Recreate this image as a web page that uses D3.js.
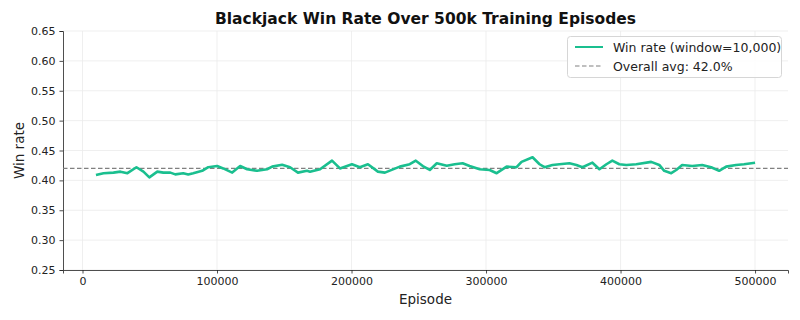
<!DOCTYPE html>
<html><head><meta charset="utf-8">
<script src="https://cdn.jsdelivr.net/npm/d3@7"></script>
<style>body{margin:0;background:#fff}svg{display:block}text{font-family:"DejaVu Sans",sans-serif}</style>
</head><body><svg id="c" width="800" height="320"></svg>
<script>
const episodes = [10000,15600,23000,28200,33400,40100,45300,49700,55600,60100,65300,69000,74900,78600,82300,89000,93500,100100,104600,111300,117200,122400,129800,137200,141000,148400,154300,160200,166900,169100,176600,185500,191400,200300,206200,212200,219600,224800,235900,243300,247800,253000,258200,263400,270800,276700,282600,287800,295300,302700,307900,315300,322700,326400,334600,339800,343500,349400,354600,362000,367200,371700,379100,384300,389500,393900,399100,404300,411700,422800,428800,432500,437700,441400,445800,453300,460700,467400,473300,478500,485900,491800,500000];
const winRate = [0.409,0.412,0.413,0.4146,0.412,0.422,0.4146,0.405,0.4146,0.413,0.413,0.410,0.412,0.410,0.412,0.416,0.422,0.424,0.420,0.413,0.424,0.4186,0.416,0.4186,0.423,0.426,0.422,0.413,0.416,0.4146,0.4186,0.433,0.420,0.427,0.422,0.427,0.4146,0.413,0.423,0.427,0.433,0.424,0.4174,0.4286,0.4246,0.427,0.4286,0.424,0.4186,0.4174,0.412,0.423,0.422,0.431,0.4387,0.427,0.422,0.4258,0.427,0.4286,0.4258,0.422,0.4296,0.4186,0.427,0.433,0.427,0.4258,0.427,0.431,0.4258,0.416,0.412,0.4174,0.4258,0.424,0.4258,0.422,0.416,0.423,0.4258,0.427,0.4296];
const overallAvg = 0.420;
const xTicks = [0,100000,200000,300000,400000,500000];
const yTicks = [0.25,0.30,0.35,0.40,0.45,0.50,0.55,0.60,0.65];
const titleText = "Blackjack Win Rate Over 500k Training Episodes";
const legendLabels = ["Win rate (window=10,000)", "Overall avg: 42.0%"];

const svg = d3.select("#c");
const L=63, R=788, T=31, B=270;
const pad = (500000-10000)*0.05;
const x = d3.scaleLinear().domain([10000-pad, 500000+pad]).range([L,R]);
const y = d3.scaleLinear().domain([0.25,0.65]).range([B,T]);
const green = "#1abf8f";

// grid
svg.append("g").selectAll("line").data(xTicks).join("line")
  .attr("x1",d=>x(d)).attr("x2",d=>x(d)).attr("y1",T).attr("y2",B)
  .attr("stroke","#ebebeb").attr("stroke-width",0.8);
svg.append("g").selectAll("line").data(yTicks).join("line")
  .attr("x1",L).attr("x2",R).attr("y1",d=>y(d)).attr("y2",d=>y(d))
  .attr("stroke","#ebebeb").attr("stroke-width",0.8);

// axes
const xa = svg.append("g").attr("transform",`translate(0,${B})`)
  .call(d3.axisBottom(x).tickValues(xTicks).tickFormat(d3.format("d")).tickSizeOuter(0).tickSize(3.5).tickPadding(4));
const ya = svg.append("g").attr("transform",`translate(${L},0)`)
  .call(d3.axisLeft(y).tickValues(yTicks).tickFormat(d3.format(".2f")).tickSizeOuter(0).tickSize(3.5).tickPadding(4));
[xa,ya].forEach(a=>{
  a.selectAll("text").attr("font-size",11).attr("fill","#222").style("font-family","DejaVu Sans");
  a.selectAll("line").attr("stroke","#222").attr("stroke-width",0.8);
  a.select(".domain").attr("stroke","#222").attr("stroke-width",0.8);
});

// avg line
svg.append("line").attr("x1",L).attr("x2",R).attr("y1",y(overallAvg)).attr("y2",y(overallAvg))
  .attr("stroke","#808080").attr("stroke-width",1.2).attr("stroke-dasharray","4.5,2.5");

// data line
const line = d3.line().x((d,i)=>x(episodes[i])).y(d=>y(d));
svg.append("path").datum(winRate).attr("d",line).attr("fill","none")
  .attr("stroke",green).attr("stroke-width",2.6).attr("stroke-linejoin","round");

// title & labels
svg.append("text").attr("x",(L+R)/2).attr("y",24).attr("text-anchor","middle")
  .attr("font-size",15.5).attr("font-weight","bold").attr("fill","#111").text(titleText);
svg.append("text").attr("x",(L+R)/2).attr("y",304).attr("text-anchor","middle")
  .attr("font-size",13.5).attr("fill","#222").text("Episode");
svg.append("text").attr("transform",`translate(24,${(T+B)/2}) rotate(-90)`).attr("text-anchor","middle")
  .attr("font-size",13.5).attr("fill","#222").text("Win rate");

// legend
const lg = svg.append("g");
lg.append("rect").attr("x",567.5).attr("y",36.5).attr("width",214).attr("height",41).attr("rx",3)
  .attr("fill","#fff").attr("fill-opacity",0.85).attr("stroke","#d6d6d6");
lg.append("line").attr("x1",575).attr("x2",603).attr("y1",47).attr("y2",47).attr("stroke",green).attr("stroke-width",2);
lg.append("line").attr("x1",575).attr("x2",603).attr("y1",66).attr("y2",66).attr("stroke","#808080").attr("stroke-width",1.2).attr("stroke-dasharray","4.5,2.5");
lg.selectAll("text.l").data(legendLabels).join("text").attr("class","l")
  .attr("x",613).attr("y",(d,i)=>51.5+i*19).attr("font-size",12.5).attr("fill","#222").text(d=>d);
</script></body></html>
